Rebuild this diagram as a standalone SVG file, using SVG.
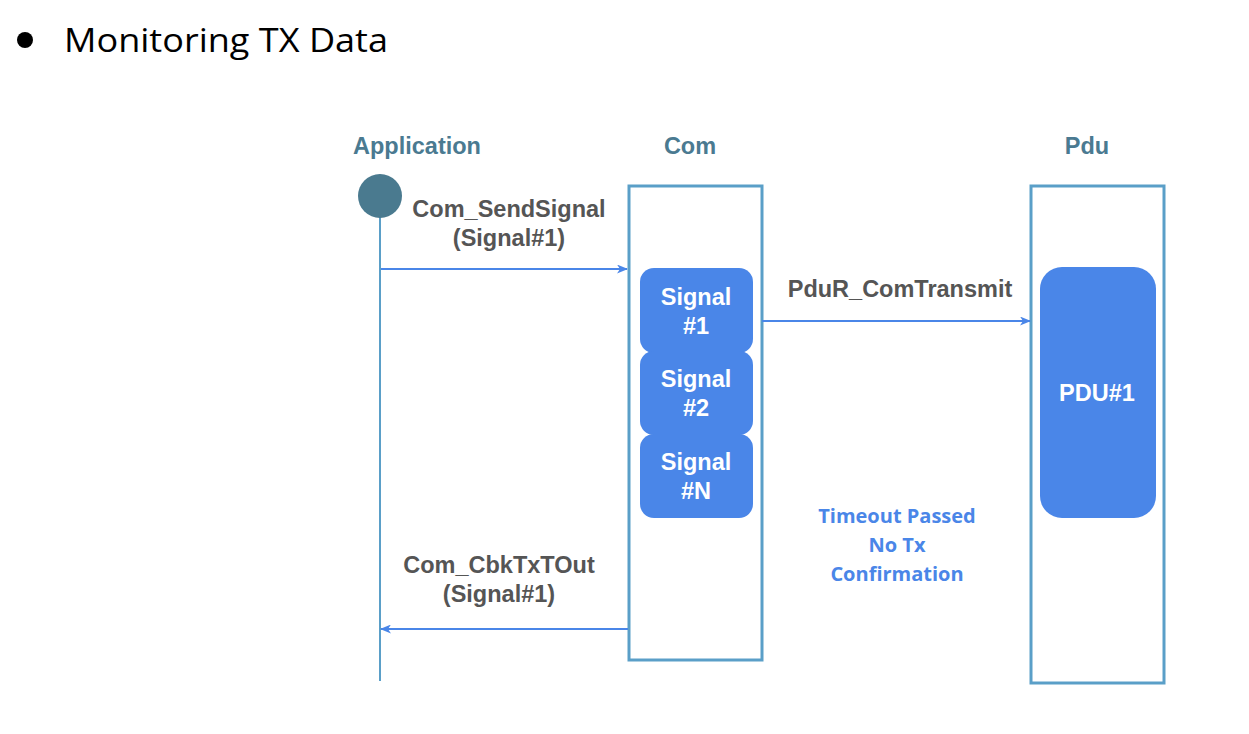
<svg xmlns="http://www.w3.org/2000/svg" width="1249" height="734" viewBox="0 0 1249 734">
<style>
.hdr{font-family:"Liberation Sans",Arial,sans-serif;font-weight:bold;font-size:23.5px;fill:#4a7a91;text-anchor:middle}
.lbl{font-family:"Liberation Sans",Arial,sans-serif;font-weight:bold;font-size:23.5px;fill:#555555;text-anchor:middle}
.wt{font-family:"Liberation Sans",Arial,sans-serif;font-weight:bold;font-size:23.5px;fill:#ffffff;text-anchor:middle}
.note{font-family:"Open Sans","Liberation Sans",sans-serif;font-weight:bold;font-size:20px;fill:#4a86e8;text-anchor:middle}
.box{fill:#ffffff;stroke:#5a9fc8;stroke-width:3}
.blk{fill:#4a86e8}
.msg{stroke:#4a86e8;stroke-width:2;fill:none}
</style>
<defs>
<marker id="ah" markerWidth="11" markerHeight="9" refX="10" refY="4.5" orient="auto" markerUnits="userSpaceOnUse">
<path d="M0,0 L11,4.5 L0,9 L3,4.5 Z" fill="#4a86e8"/>
</marker>
</defs>
<rect width="1249" height="734" fill="#ffffff"/>
<g id="title">
<circle cx="25" cy="40" r="8" fill="#000000"/>
<text x="64" y="52" font-family="'Open Sans','Liberation Sans',sans-serif" font-size="33" fill="#000000" textLength="324" lengthAdjust="spacingAndGlyphs">Monitoring TX Data</text>
</g>
<g id="application">
<text class="hdr" x="417" y="154">Application</text>
<line x1="380" y1="210" x2="380" y2="681" stroke="#5a9fc8" stroke-width="2"/>
<circle cx="380" cy="196" r="22" fill="#4a7a8f"/>
</g>
<g id="com">
<text class="hdr" x="690" y="154">Com</text>
<rect class="box" x="629" y="186" width="133" height="474"/>
</g>
<g id="pdu">
<text class="hdr" x="1087" y="154">Pdu</text>
<rect class="box" x="1031" y="186" width="133" height="497"/>
</g>
<g id="signal1">
<rect class="blk" x="640" y="268" width="113" height="85" rx="14"/>
<text class="wt" x="696" y="305">Signal</text>
<text class="wt" x="696" y="334">#1</text>
</g>
<g id="signal2">
<rect class="blk" x="640" y="351" width="113" height="84" rx="14"/>
<text class="wt" x="696" y="387">Signal</text>
<text class="wt" x="696" y="416">#2</text>
</g>
<g id="signalN">
<rect class="blk" x="640" y="434" width="113" height="84" rx="14"/>
<text class="wt" x="696" y="470">Signal</text>
<text class="wt" x="696" y="499">#N</text>
</g>
<g id="pdu1">
<rect class="blk" x="1040" y="267" width="116" height="251" rx="22"/>
<text class="wt" x="1097" y="401">PDU#1</text>
</g>
<g id="connectors">
<line class="msg" x1="381" y1="269" x2="627" y2="269" marker-end="url(#ah)"/>
<line class="msg" x1="762" y1="321" x2="1030" y2="321" marker-end="url(#ah)"/>
<line class="msg" x1="628" y1="629" x2="381" y2="629" marker-end="url(#ah)"/>
<text class="lbl" x="509" y="217">Com_SendSignal</text>
<text class="lbl" x="509" y="246">(Signal#1)</text>
<text class="lbl" x="900" y="297">PduR_ComTransmit</text>
<text class="lbl" x="499" y="573">Com_CbkTxTOut</text>
<text class="lbl" x="499" y="602">(Signal#1)</text>
<text class="note" x="897" y="523">Timeout Passed</text>
<text class="note" x="897" y="552">No Tx</text>
<text class="note" x="897" y="581">Confirmation</text>
</g>
</svg>
